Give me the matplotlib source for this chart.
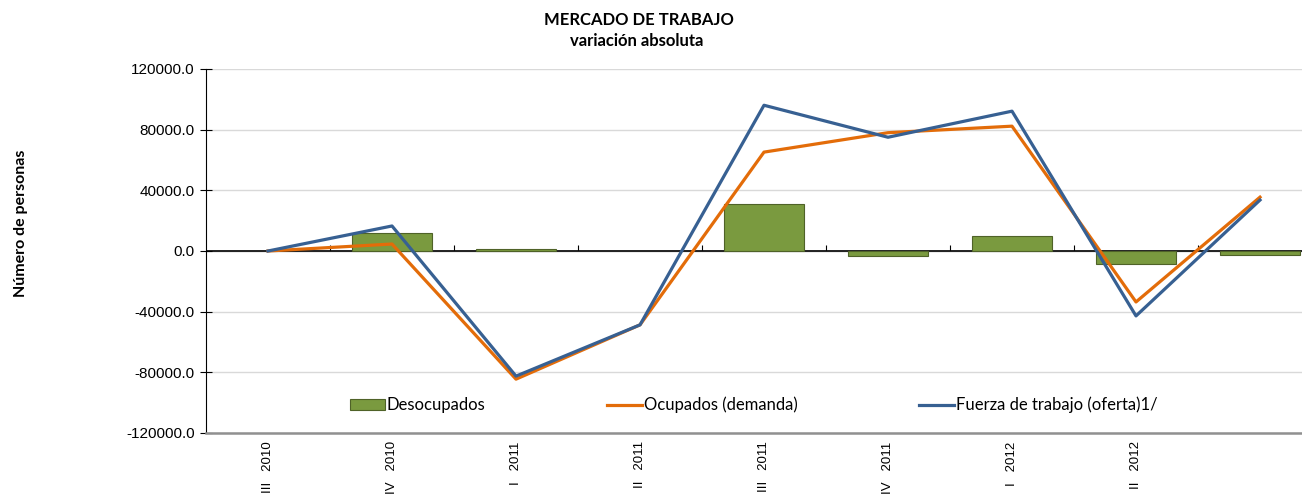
import matplotlib.pyplot as plt
import numpy as np

trimestres = ["III   2010", "IV   2010", "I   2011", "II   2011", "III   2011",
              "IV   2011", "I   2012", "II   2012", ""]
desocupados = [np.nan, 11900, 1500, np.nan, 31000, -3300, 9800, -8600, -2600]
ocupados = [0, 4600, -84500, -48700, 65200, 78000, 82300, -33600, 35500]
fuerza = [0, 16500, -82500, -48700, 96100, 75000, 92200, -42800, 33600]

plt.rcParams['font.family'] = ['Liberation Sans', 'DejaVu Sans']
calibri = ['Lato', 'DejaVu Sans']

fig = plt.figure(figsize=(13.02, 5.01), dpi=100)
ax = fig.add_axes([206 / 1302, 1 - 433 / 501, 1 - 206 / 1302, (433 - 69) / 501])

x = np.arange(len(trimestres))
ax.axhline(0, color='black', lw=1.2, zorder=1.5)
barras = ax.bar(x, desocupados, width=0.65, color='#7A9A3F', edgecolor='#4F6228',
                linewidth=0.8, label='Desocupados', zorder=2)
l1, = ax.plot(x, ocupados, color='#E36C09', lw=2.3, label='Ocupados (demanda)', zorder=3)
l2, = ax.plot(x, fuerza, color='#376092', lw=2.3, label='Fuerza de trabajo (oferta)1/', zorder=4)

ax.set_ylim(-120000, 120000)
ax.set_xlim(-0.5, 7.5 + (1302 - 1198) / 124)
yt = np.arange(-120000, 120001, 40000)
ax.set_yticks(yt)
ax.set_yticklabels(['%.1f' % v for v in yt], fontsize=11)
ax.yaxis.grid(True, color='#d9d9d9', lw=1)
ax.set_axisbelow(True)
ax.tick_params(axis='y', direction='inout', length=8, color='black', pad=4)

ax.set_xticks(x[:8])
ax.set_xticklabels(trimestres[:8], rotation=90, fontsize=9.5)
ax.tick_params(axis='x', length=0, pad=6)

for s in ['top', 'right']:
    ax.spines[s].set_visible(False)
ax.spines['bottom'].set_color('#909090')
ax.spines['bottom'].set_linewidth(1.8)
ax.spines['left'].set_color('black')

# marcas del eje de categorías sobre el cero
sec = ax.secondary_xaxis(0.5)
sec.set_xticks(np.arange(0.5, 8.5, 1))
sec.set_xticklabels([])
sec.tick_params(direction='out', length=4, color='black')
sec.spines['bottom'].set_visible(False)

ax.set_ylabel('Número de personas', fontsize=11.5, fontweight='bold', family=calibri)
ax.yaxis.set_label_coords(-(206 - 28) / 1096, (433 - 223) / 364)

ax.legend([barras, l1, l2], [barras.get_label(), l1.get_label(), l2.get_label()],
          loc='center', bbox_to_anchor=(0.5, (433 - 405) / 364), ncol=3,
          frameon=False, prop={'family': calibri, 'size': 12},
          handlelength=2.1, handleheight=0.6, handletextpad=0.1, columnspacing=7.3)

fig.text(639 / 1302, 1 - 20 / 501, 'MERCADO DE TRABAJO', ha='center', va='center',
         fontsize=12, fontweight='bold', family=calibri)
fig.text(637 / 1302, 1 - 41 / 501, 'variación absoluta', ha='center', va='center',
         fontsize=12, fontweight='bold', family=calibri)

fig.savefig('out.png', dpi=100)
